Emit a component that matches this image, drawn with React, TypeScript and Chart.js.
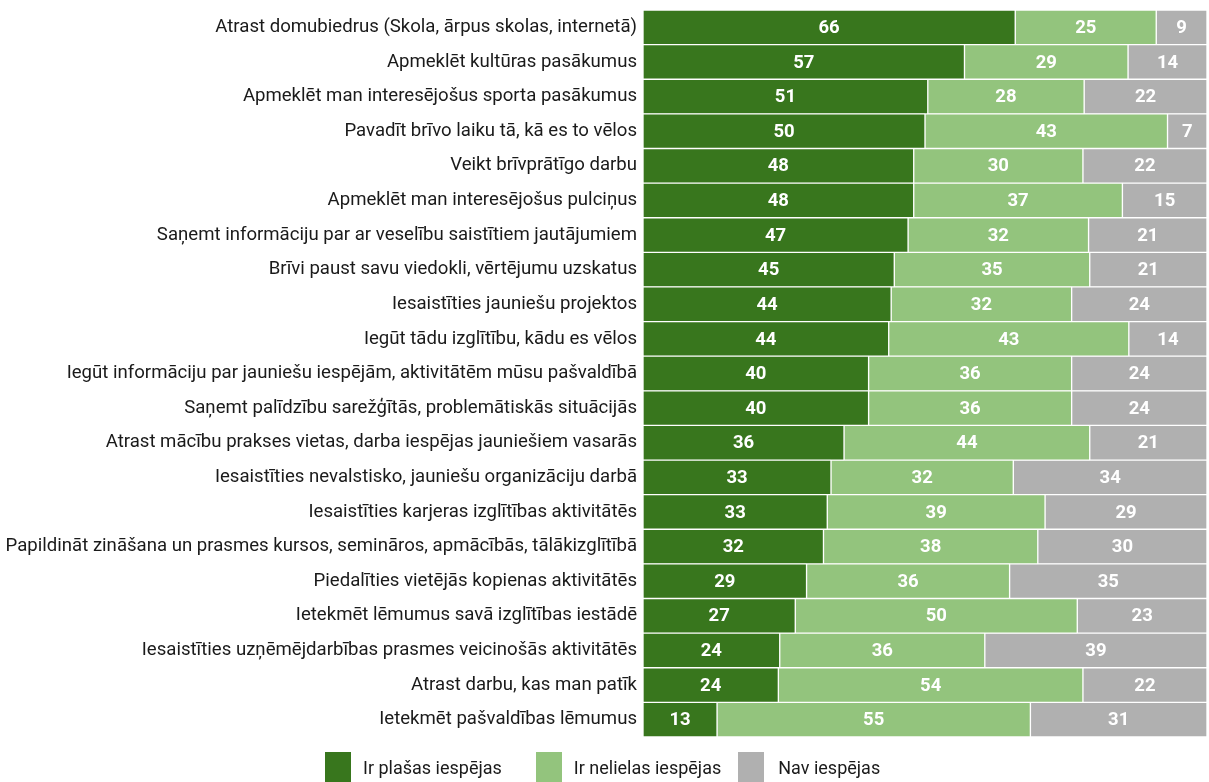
import React, { useEffect, useRef } from "react";
import { Chart, registerables } from "chart.js";

Chart.register(...registerables);

const categories = [
  "Atrast domubiedrus (Skola, ārpus skolas, internetā)",
  "Apmeklēt kultūras pasākumus",
  "Apmeklēt man interesējošus sporta pasākumus",
  "Pavadīt brīvo laiku tā, kā es to vēlos",
  "Veikt brīvprātīgo darbu",
  "Apmeklēt man interesējošus pulciņus",
  "Saņemt informāciju par ar veselību saistītiem jautājumiem",
  "Brīvi paust savu viedokli, vērtējumu uzskatus",
  "Iesaistīties jauniešu projektos",
  "Iegūt tādu izglītību, kādu es vēlos",
  "Iegūt informāciju par jauniešu iespējām, aktivitātēm mūsu pašvaldībā",
  "Saņemt palīdzību sarežģītās, problemātiskās situācijās",
  "Atrast mācību prakses vietas, darba iespējas jauniešiem vasarās",
  "Iesaistīties nevalstisko, jauniešu organizāciju darbā",
  "Iesaistīties karjeras izglītības aktivitātēs",
  "Papildināt zināšana un prasmes kursos, semināros, apmācībās, tālākizglītībā",
  "Piedalīties vietējās kopienas aktivitātēs",
  "Ietekmēt lēmumus savā izglītības iestādē",
  "Iesaistīties uzņēmējdarbības prasmes veicinošās aktivitātēs",
  "Atrast darbu, kas man patīk",
  "Ietekmēt pašvaldības lēmumus",
];

const seriesNames = ["Ir plašas iespējas", "Ir nelielas iespējas", "Nav iespējas"];

const broad = [66, 57, 51, 50, 48, 48, 47, 45, 44, 44, 40, 40, 36, 33, 33, 32, 29, 27, 24, 24, 13];
const small = [25, 29, 28, 43, 30, 37, 32, 35, 32, 43, 36, 36, 44, 32, 39, 38, 36, 50, 36, 54, 55];
const none = [9, 14, 22, 7, 22, 15, 21, 21, 24, 14, 24, 24, 21, 34, 29, 30, 35, 23, 39, 22, 31];

const colors = ["#38761d", "#93c47d", "#b0b0b0"];

const FONT = "'Roboto', 'Liberation Sans', sans-serif";

const raw = [broad, small, none];
const totals = categories.map((_, i) => broad[i] + small[i] + none[i]);
// 100% stacked: each segment is its share of the row total
const shares = raw.map((arr) => arr.map((v, i) => (v / totals[i]) * 100));

const valueLabels = {
  id: "valueLabels",
  afterDatasetsDraw(chart: any) {
    const ctx = chart.ctx;
    ctx.save();
    ctx.fillStyle = "#ffffff";
    ctx.font = `bold 18.5px ${FONT}`;
    ctx.textAlign = "center";
    ctx.textBaseline = "middle";
    chart.data.datasets.forEach((ds: any, di: number) => {
      const meta = chart.getDatasetMeta(di);
      meta.data.forEach((bar: any, i: number) => {
        const v = raw[di][i];
        const left = Math.min(bar.base, bar.x);
        const right = Math.min(Math.max(bar.base, bar.x), chart.chartArea.right);
        ctx.fillText(String(v), (left + right) / 2, bar.y + 1);
      });
    });
    ctx.restore();
  },
};

export default function App() {
  const ref = useRef<HTMLCanvasElement | null>(null);
  useEffect(() => {
    document.body.style.margin = "0";
    const chart = new Chart(ref.current as HTMLCanvasElement, {
      type: "bar",
      data: {
        labels: categories,
        datasets: seriesNames.map((name, i) => ({
          label: name,
          data: shares[i],
          backgroundColor: colors[i],
          borderColor: "#ffffff",
          borderWidth: 1,
          borderSkipped: false,
          barPercentage: 1,
          categoryPercentage: 1,
        })),
      },
      options: {
        indexAxis: "y",
        animation: false,
        responsive: false,
        maintainAspectRatio: false,
        layout: { padding: { top: 10, right: 2, left: 0, bottom: 45 } },
        scales: {
          x: {
            stacked: true,
            min: 0,
            max: 100,
            display: false,
          },
          y: {
            stacked: true,
            grid: { display: false, drawTicks: false, tickLength: 0 },
            border: { display: false },
            ticks: {
              color: "#1a1a1a",
              font: { family: FONT, size: 18.6 },
              padding: 6,
              autoSkip: false,
            },
            afterFit: (scale: any) => {
              scale.width = 643;
              scale.paddingTop = 0;
              scale.paddingBottom = 0;
            },
          },
        },
        plugins: {
          legend: { display: false },
          tooltip: { enabled: false },
        },
      },
      plugins: [valueLabels],
    });
    return () => chart.destroy();
  }, []);

  const legendItem = (i: number, gapAfter: number, textGap: number) => (
    <div key={i} style={{ display: "flex", alignItems: "center", marginRight: gapAfter }}>
      <div style={{ width: 26, height: 30, background: colors[i], marginRight: textGap }} />
      <span style={{ fontFamily: FONT, fontSize: 18, color: "#1a1a1a", whiteSpace: "nowrap" }}>
        {seriesNames[i]}
      </span>
    </div>
  );

  return (
    <div style={{ position: "relative", width: 1209, height: 782, overflow: "hidden" }}>
      <canvas ref={ref} width={1209} height={782} style={{ display: "block" }} />
      <div
        style={{
          position: "absolute",
          top: 752,
          left: 325,
          height: 30,
          display: "flex",
          alignItems: "center",
        }}
      >
        {legendItem(0, 34, 12)}
        {legendItem(1, 17, 12)}
        {legendItem(2, 0, 14)}
      </div>
    </div>
  );
}
